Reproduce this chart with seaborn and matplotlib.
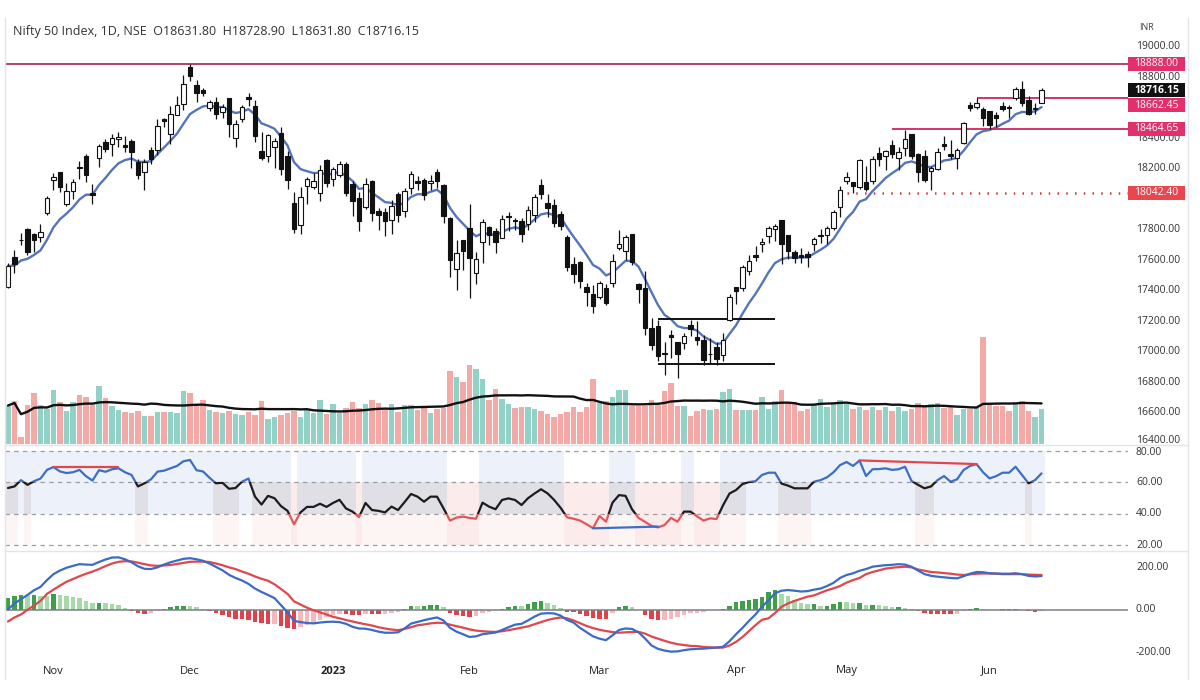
import numpy as np
import pandas as pd
import matplotlib
matplotlib.use("Agg")
import matplotlib.pyplot as plt
import matplotlib.transforms as mtransforms
from matplotlib.patches import Rectangle
from matplotlib.lines import Line2D
import seaborn as sns

# ---------------- data ----------------
title = "Nifty 50 Index, 1D, NSE  O18631.80  H18728.90  L18631.80  C18716.15"
month_labels = ["Nov", "Dec", "2023", "Feb", "Mar", "Apr", "May", "Jun"]
month_first_bar = [7, 28, 50, 71, 91, 112, 129, 151]

open_ = [17423,17623,17736,17808,17772,17756,17910,18130,18177,17969,
18054,18211,18288,18045,18273,18376,18362,18398,18358,18382,
18246,18179,18326,18327,18529,18430,18552,18625,18871,18753,
18719,18600,18638,18570,18662,18403,18525,18672,18614,18319,
18288,18341,18435,18288,17977,17830,18089,18084,18045,18260,
18131,18163,18230,18101,18009,17952,18121,17924,17920,17868,
18033,17923,18074,18119,18125,18110,18183,18094,17877,17541,
17732,17811,17517,17721,17818,17790,17750,17885,17865,17859,
17840,17896,18094,17975,17965,17905,17755,17574,17591,17428,
17383,17360,17421,17452,17680,17665,17772,17444,17422,17160,
17167,16994,17111,17066,17061,17177,17097,17076,16984,17031,
16977,17210,17428,17422,17533,17635,17705,17759,17807,17863,
17767,17654,17638,17640,17707,17757,17768,17813,17950,18124,
18113,18082,18117,18120,18303,18288,18357,18273,18339,18432,
18300,18287,18187,18201,18362,18295,18269,18368,18619,18606,
18594,18580,18551,18612,18600,18665,18725,18655,18595,18631.80]

high = [17584,17670,17778,17812,17783,17838,18022,18175,18178,18106,
18135,18255,18296,18103,18362,18399,18427,18442,18417,18395,
18262,18262,18345,18529,18534,18615,18678,18817,18888,18781,
18728,18654,18669,18625,18665,18518,18618,18697,18653,18440,
18431,18406,18473,18319,18050,18084,18149,18173,18229,18265,
18215,18251,18243,18120,18047,18141,18127,17944,17945,17999,
18050,18072,18184,18155,18141,18163,18201,18100,17884,17735,
17736,17972,17653,17870,17823,17811,17899,17916,17877,17880,
17954,18034,18134,18034,18005,17925,17767,17620,17599,17452,
17440,17467,17445,17645,17800,17766,17772,17451,17529,17224,
17211,17062,17145,17066,17127,17207,17206,17110,17091,17062,
17127,17381,17428,17570,17638,17695,17749,17826,17842,17864,
17767,17667,17684,17664,17754,17807,17827,17931,18089,18180,
18116,18267,18216,18286,18344,18326,18389,18342,18458,18432,
18306,18325,18218,18335,18419,18392,18338,18508,18641,18662,
18603,18580,18573,18640,18622,18738,18777,18676,18633,18728.90]

low = [17421,17520,17701,17637,17654,17723,17899,18060,18048,17960,
18000,18135,18117,17969,18210,18311,18282,18344,18312,18209,
18133,18063,18231,18294,18475,18365,18552,18588,18778,18640,
18675,18577,18528,18536,18411,18346,18505,18612,18374,18256,
18244,18203,18162,18069,17779,17774,17967,18068,17992,18080,
18087,18150,18021,17892,17796,17936,17857,17800,17761,17774,
17853,17886,18033,18064,17999,18063,18078,17846,17494,17405,
17537,17353,17445,17584,17699,17652,17744,17790,17801,17719,
17800,17853,18000,17884,17818,17800,17529,17455,17421,17299,
17255,17345,17306,17427,17671,17602,17573,17324,17113,17011,
16938,16850,16958,16828,17016,17107,17046,16917,16918,16913,
16940,17204,17313,17402,17502,17598,17655,17714,17730,17574,
17610,17584,17580,17554,17662,17716,17711,17797,17885,18101,
18042,18066,18055,18100,18221,18194,18270,18194,18287,18264,
18111,18116,18060,18194,18324,18262,18202,18363,18581,18593,
18483,18464,18478,18582,18532,18655,18615,18555,18559,18631.80]

close = [17564,17576,17731,17656,17737,17787,18012,18145,18083,18053,
18117,18203,18157,18028,18350,18329,18403,18410,18344,18308,
18160,18244,18267,18484,18513,18562,18618,18758,18812,18696,
18701,18642,18560,18609,18497,18497,18608,18660,18414,18269,
18420,18385,18199,18127,17807,18015,18132,18123,18191,18105,
18197,18233,18043,17992,17859,18101,17914,17895,17858,17956,
17895,18053,18165,18107,18027,18118,18118,17892,17604,17649,
17662,17616,17610,17854,17764,17721,17871,17893,17856,17771,
17929,18015,18035,17944,17844,17826,17554,17511,17466,17392,
17304,17451,17322,17594,17711,17754,17590,17413,17154,17043,
16972,16985,17100,16988,17107,17151,17077,16945,16986,16951,
17081,17360,17399,17557,17599,17624,17722,17812,17828,17706,
17660,17618,17624,17624,17743,17769,17813,17915,18065,18148,
18090,18256,18069,18264,18265,18315,18297,18314,18398,18286,
18181,18129,18203,18314,18348,18285,18321,18499,18599,18633,
18534,18487,18534,18594,18599,18726,18635,18563,18601,18716.15]

volume_m = [304,344,56,312,408,312,280,432,336,264,
336,392,376,312,464,368,304,272,256,248,
264,224,224,256,256,256,248,424,408,312,
352,272,256,248,264,240,232,256,232,344,
200,216,232,248,264,216,272,248,352,240,
320,248,288,336,288,320,352,328,272,320,
256,312,312,272,296,248,280,288,584,536,
496,632,600,520,352,440,360,320,288,296,
296,280,264,240,216,240,256,296,256,296,
520,328,344,376,432,432,304,304,304,352,
312,424,488,304,304,224,264,280,272,280,
416,440,272,272,272,272,376,280,344,432,
320,336,264,280,320,360,296,320,352,320,
280,296,272,296,272,296,264,296,264,280,
328,296,320,328,288,296,232,280,280,296,
856,320,304,304,264,320,344,264,216,280]

rsi = [56.5,57.5,61.5,58.5,60.8,62.5,68,69.8,67,66,
66.5,68,64,61.2,67.8,66.8,68.4,69,66.5,64.8,
57.5,59.5,62,66.9,67.5,69,70.5,73.5,74.3,67.8,
67,63,59.5,59.8,56,56.5,60.5,62.5,51,46,
51.5,50,45,42,33.5,41,44.5,44.5,46.5,44.5,
47,49,43.5,41.5,38,47,42.5,42,41,44.7,
42.5,47.5,52.7,51,47.8,51,51,43.6,35.8,37.7,
38.3,37.5,37,47.2,44.7,43,48.9,49.9,48.9,45.7,
50,53,55.7,53.1,49,44,37.9,37,35.8,33.5,
31,38.7,35.1,47.2,52,51.5,43,37.5,35,32.4,
31.5,33,37.5,35.1,41.5,41.5,38.5,35.8,37.2,36.8,
45.5,53,55.2,59,60.3,60.8,64.8,66.2,66.2,59.3,
58,56.3,56.3,56.3,60.5,61.5,63.3,66.5,71,73,
70.5,73.9,64.1,68.4,68.5,69,68,68.4,70,61,
58.5,56.3,57.5,61.5,64.1,60.5,62,67.9,70.5,71.7,
66.5,62.6,64,66.2,66.2,70,64.8,59.5,61.5,65.8]

macd = [2,30,50,70,92,108,140,168,185,198,
207,215,213,212,225,237,246,247,238,224,
205,193,192,200,213,224,232,240,243,238,
231,218,202,186,165,150,138,122,100,84,
70,55,22,-12,-52,-58,-62,-64,-60,-57,
-56,-58,-66,-80,-88,-89,-95,-103,-108,-108,
-106,-88,-65,-57,-49,-42,-36,-50,-85,-103,
-115,-128,-125,-115,-111,-107,-95,-82,-70,-66,
-50,-32,-18,-16,-17,-27,-48,-60,-85,-105,
-125,-136,-143,-120,-95,-88,-90,-106,-135,-168,
-184,-192,-197,-196,-190,-186,-184,-183,-180,-178,
-174,-148,-115,-85,-52,-22,15,45,78,90,
93,90,86,88,95,100,112,127,150,164,
172,184,192,203,207,210,212,215,213,203,
185,168,160,156,153,150,148,158,170,178,
177,172,171,170,170,172,168,160,157,159]

signal = [-55,-36,-22,0,20,42,75,95,114,132,
145,158,170,180,192,206,218,226,229,228,
222,215,209,207,209,211,216,221,226,227,
227,225,218,210,200,192,180,170,157,146,
137,120,98,75,40,25,10,-2,-12,-22,
-33,-40,-48,-55,-62,-68,-74,-82,-88,-93,
-96,-90,-82,-73,-69,-64,-61,-62,-70,-77,
-84,-92,-98,-101,-103,-104,-101,-96,-90,-84,
-78,-68,-58,-48,-41,-36,-40,-50,-63,-76,
-86,-94,-100,-105,-108,-106,-105,-104,-112,-126,
-136,-146,-155,-162,-166,-170,-171,-175,-177,-178,
-178,-168,-151,-128,-100,-72,-47,-40,-15,14,
30,42,52,62,68,80,92,101,112,128,
140,150,168,178,186,194,198,201,203,200,
190,184,178,176,173,170,166,164,167,170,
171,171,170,168,168,168,168,166,165,164]

level_values = [18888.00, 18662.45, 18464.65, 18042.40]
level_start_bar = [-1, 149, 136, 129]
range_box_prices = [16918, 17215]
range_box_bars = [100, 118]
last_price = 18716.15
rsi_div_bars = [[7, 17], [90, 100], [131, 149]]
rsi_div_vals = [[69.6, 69.6], [30.9, 32.0], [74.0, 71.7]]
price_ticks = list(range(16400, 19001, 200))
rsi_ticks = [80, 60, 40, 20]
macd_ticks = [200, 0, -200]

# ---------------- styling ----------------
sns.set_theme(style="white")
plt.rcParams["font.family"] = ["Open Sans", "DejaVu Sans"]

W, H = 1200, 700
fig = plt.figure(figsize=(12, 7), dpi=100)
fig.patch.set_facecolor("white")


def rect(x0, y0, x1, y1):
    return [x0 / W, 1 - y1 / H, (x1 - x0) / W, (y1 - y0) / H]


XL = (-0.46, 172.3)
axv = fig.add_axes(rect(5, 18, 1128, 445))
ax = fig.add_axes(rect(5, 18, 1128, 445))
axr = fig.add_axes(rect(5, 445, 1128, 551))
axm = fig.add_axes(rect(5, 551, 1128, 658))
for a in (axv, ax, axr, axm):
    a.set_xlim(*XL)
    a.set_xticks([])
    a.set_yticks([])
    for s in a.spines.values():
        s.set_visible(False)
    a.set_facecolor("none")
axv.set_facecolor("white")

o = np.array(open_, float)
h = np.array(high, float)
l = np.array(low, float)
c = np.array(close, float)
n = len(c)
x = np.arange(n)
up = c >= o

# ---- volume (own scale, at bottom of price pane) ----
vol = np.array(volume_m, float)
vcol = np.where(up, "#92d2c6", "#f4a9a7")
axv.bar(x, vol, width=0.82, color=vcol, linewidth=0)
vol_ma = pd.Series(vol).rolling(20, min_periods=1).mean()
sns.lineplot(x=x, y=vol_ma.values, ax=axv, color="#111111", linewidth=1.7)
axv.set_ylim(-12, 3404)
axv.set_xlim(*XL)

# ---- price pane ----
ax.set_ylim(16389.8, 19189.6)
ema = pd.Series(c).ewm(span=9, adjust=False).mean()
sns.lineplot(x=x, y=ema.values, ax=ax, color="#5674b9", linewidth=1.7, zorder=2)

ax.vlines(x, np.minimum(l, np.minimum(o, c)), np.maximum(h, np.maximum(o, c)),
          color="#111111", linewidth=0.9, zorder=3)
body_lo = np.minimum(o, c)
body_h = np.maximum(np.abs(c - o), 4)
ax.bar(x[up], body_h[up], bottom=body_lo[up], width=0.66, color="white",
       edgecolor="#111111", linewidth=0.8, zorder=4)
ax.bar(x[~up], body_h[~up], bottom=body_lo[~up], width=0.66, color="#111111",
       edgecolor="#111111", linewidth=0.8, zorder=4)

line_cols = ["#a8355f", "#d0245f", "#d0245f", "#d03a3a"]
for v, sb, lc in zip(level_values, level_start_bar, line_cols):
    start = XL[0] if sb < 0 else sb
    if v == level_values[-1]:
        ax.hlines(v, start, XL[1], color=lc, linewidth=1.8,
                  linestyles=[(0, (0.6, 2.9))], zorder=2)
    else:
        ax.hlines(v, start, XL[1], color=lc, linewidth=1.3, zorder=2)
ax.hlines(range_box_prices, range_box_bars[0], range_box_bars[1],
          color="#111111", linewidth=1.4, zorder=2)
ax.set_xlim(*XL)

fig.text(13 / W, 1 - 32 / H, title, fontsize=9, color="#333333",
         va="center", ha="left")

# ---- RSI pane ----
axr.set_ylim(16.5, 83.8)
r = np.array(rsi, float)
state = np.where(r > 60, 1, np.where(r < 40, -1, 0))
bands = [
    (40, 80, "#edf2fa", state == 1),
    (60, 80, "#edf2fa", state == 0),
    (40, 60, "#dfdfe5", state == 0),
    (20, 40, "#fdf4f4", state == 0),
    (20, 60, "#fcebeb", state == -1),
]
for b0, b1, col, m in bands:
    axr.bar(x[m], b1 - b0, bottom=b0, width=1.0, color=col, linewidth=0, zorder=0)
for t in rsi_ticks:
    axr.axhline(t, color="#9a9ca6", linewidth=0.9, linestyle=(0, (3.5, 3.5)), zorder=1)
for lo_, hi_, col in [(60, 200, "#3d6ec4"), (40, 60, "#1c1c1c"), (-100, 40, "#e0575a")]:
    sns.lineplot(x=x, y=r, ax=axr, color=col, linewidth=1.6, zorder=3)
    ln = axr.lines[-1]
    ln.set_clip_path(Rectangle((XL[0], lo_), XL[1] - XL[0], hi_ - lo_,
                               transform=axr.transData))
div_cols = ["#e0474c", "#3d6ec4", "#e0474c"]
for bx, by, col in zip(rsi_div_bars, rsi_div_vals, div_cols):
    axr.plot(bx, by, color=col, linewidth=1.6, zorder=4)
axr.set_xlim(*XL)

# ---- MACD pane ----
axm.set_ylim(-227, 277)
mc = np.array(macd, float)
sg = np.array(signal, float)
hist = mc - sg
prev = np.concatenate([[hist[0]], hist[:-1]])
hcol = np.where(hist >= 0,
                np.where(hist >= prev, "#3f9e48", "#a6d8a8"),
                np.where(hist <= prev, "#e2404b", "#f7b8bc"))
axm.bar(x, hist, width=0.75, color=hcol, linewidth=0, zorder=1)
axm.axhline(0, color="#7d7f88", linewidth=1.1, zorder=2)
sns.lineplot(x=x, y=sg, ax=axm, color="#e0474c", linewidth=1.6, zorder=3)
sns.lineplot(x=x, y=mc, ax=axm, color="#3a6bc8", linewidth=1.6, zorder=4)
axm.set_xlim(*XL)

# ---- frame lines ----
fr = "#e3e5ec"
fig.add_artist(Line2D([5 / W, 5 / W], [1 - 18 / H, 1 - 679 / H], color=fr, lw=1))
fig.add_artist(Line2D([1188 / W, 1188 / W], [1 - 18 / H, 1 - 679 / H], color=fr, lw=1))
for yy in (445, 551):
    fig.add_artist(Line2D([5 / W, 1188 / W], [1 - yy / H, 1 - yy / H], color=fr, lw=1))

# ---- right price scale ----
def fy(axis, v):
    return fig.transFigure.inverted().transform(axis.transData.transform((0, v)))[1]

label_vals = [level_values[0], last_price, level_values[1], level_values[2], level_values[3]]
label_offsets = [0, 0, -7, 0, 0]
label_y = [fy(ax, v) + off / H for v, off in zip(label_vals, label_offsets)]

for t in price_ticks:
    yt = fy(ax, t)
    # price-scale ticks that sit under a label box are hidden, as in the reference
    if min(abs(yt - ly) for ly in label_y) * H < 9:
        continue
    if t == price_ticks[0]:
        yt += 2.5 / H
    fig.text(1136 / W, yt, f"{t:.2f}", fontsize=7.5, color="#333333",
             va="center", ha="left", zorder=4)
for t in rsi_ticks:
    yt = fy(axr, t) - (1.5 / H if t == rsi_ticks[0] else 0)
    fig.text(1136 / W, yt, f"{t:.2f}", fontsize=7.5, color="#333333",
             va="center", ha="left", zorder=4)
for t in macd_ticks:
    fig.text(1136 / W, fy(axm, t), f"{t:.2f}", fontsize=7.5, color="#333333",
             va="center", ha="left", zorder=4)
fig.text(1139 / W, 1 - 27 / H, "INR", fontsize=6.5, color="#444444",
         va="center", ha="left")

label_cols = ["#e1306c", "#111111", "#e1306c", "#e1306c", "#e8474f"]
for v, yc, col in zip(label_vals, label_y, label_cols):
    fig.add_artist(Rectangle((1128 / W, yc - 7 / H), 57 / W, 14 / H,
                             transform=fig.transFigure, facecolor=col,
                             edgecolor="none", zorder=5))
    fig.text(1156.5 / W, yc, f"{v:.2f}", fontsize=7.5, color="white", va="center",
             ha="center", zorder=6,
             fontweight="bold" if col == "#111111" else "normal")

# ---- time axis ----
tr = mtransforms.blended_transform_factory(axm.transData, fig.transFigure)
for lab, bi in zip(month_labels, month_first_bar):
    fig.text(bi, 1 - 671 / H, lab, transform=tr, fontsize=8, color="#222222",
             ha="center", va="center",
             fontweight="bold" if lab == "2023" else "normal")

fig.savefig("out.png", dpi=100, facecolor="white")
